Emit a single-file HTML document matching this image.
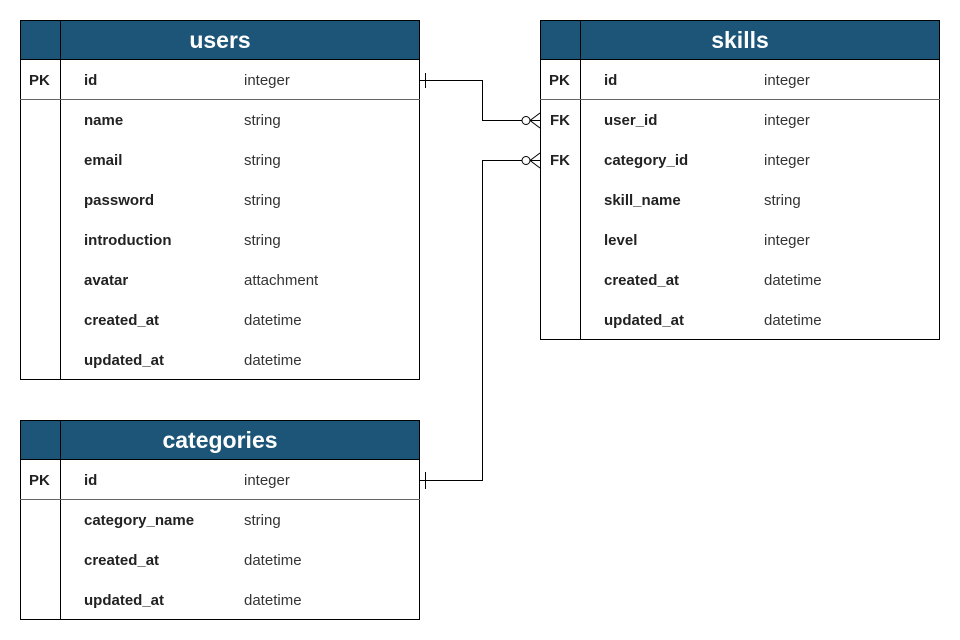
<!DOCTYPE html>
<html><head><meta charset="utf-8"><style>
html,body{margin:0;padding:0;background:#fff;}
svg{display:block;font-family:"Liberation Sans",sans-serif;}
.f{font-weight:bold;font-size:15px;fill:#222;}
.t{font-size:15px;fill:#333;}
.k{font-weight:bold;font-size:15px;fill:#222;}
.h{font-weight:bold;font-size:23px;fill:#fff;}
</style></head><body>
<svg width="960" height="640" viewBox="0 0 960 640">
<!-- users -->
<g>
<rect x="20.5" y="20.5" width="399" height="359" fill="#fff" stroke="#000"/>
<rect x="20.5" y="20.5" width="399" height="39" fill="#1c5578" stroke="#000"/>
<line x1="60.5" y1="20" x2="60.5" y2="380" stroke="#000"/>
<line x1="20" y1="99.5" x2="420" y2="99.5" stroke="#666"/>
<text class="h" x="220" y="48" text-anchor="middle">users</text>
<text class="k" x="29" y="85">PK</text>
<text class="f" x="84" y="85">id</text><text class="t" x="244" y="85">integer</text>
<text class="f" x="84" y="125">name</text><text class="t" x="244" y="125">string</text>
<text class="f" x="84" y="165">email</text><text class="t" x="244" y="165">string</text>
<text class="f" x="84" y="205">password</text><text class="t" x="244" y="205">string</text>
<text class="f" x="84" y="245">introduction</text><text class="t" x="244" y="245">string</text>
<text class="f" x="84" y="285">avatar</text><text class="t" x="244" y="285">attachment</text>
<text class="f" x="84" y="325">created_at</text><text class="t" x="244" y="325">datetime</text>
<text class="f" x="84" y="365">updated_at</text><text class="t" x="244" y="365">datetime</text>
</g>
<!-- skills -->
<g>
<rect x="540.5" y="20.5" width="399" height="319" fill="#fff" stroke="#000"/>
<rect x="540.5" y="20.5" width="399" height="39" fill="#1c5578" stroke="#000"/>
<line x1="580.5" y1="20" x2="580.5" y2="340" stroke="#000"/>
<line x1="540" y1="99.5" x2="940" y2="99.5" stroke="#666"/>
<text class="h" x="740" y="48" text-anchor="middle">skills</text>
<text class="k" x="549" y="85">PK</text>
<text class="k" x="550" y="125">FK</text>
<text class="k" x="550" y="165">FK</text>
<text class="f" x="604" y="85">id</text><text class="t" x="764" y="85">integer</text>
<text class="f" x="604" y="125">user_id</text><text class="t" x="764" y="125">integer</text>
<text class="f" x="604" y="165">category_id</text><text class="t" x="764" y="165">integer</text>
<text class="f" x="604" y="205">skill_name</text><text class="t" x="764" y="205">string</text>
<text class="f" x="604" y="245">level</text><text class="t" x="764" y="245">integer</text>
<text class="f" x="604" y="285">created_at</text><text class="t" x="764" y="285">datetime</text>
<text class="f" x="604" y="325">updated_at</text><text class="t" x="764" y="325">datetime</text>
</g>
<!-- categories -->
<g>
<rect x="20.5" y="420.5" width="399" height="199" fill="#fff" stroke="#000"/>
<rect x="20.5" y="420.5" width="399" height="39" fill="#1c5578" stroke="#000"/>
<line x1="60.5" y1="420" x2="60.5" y2="620" stroke="#000"/>
<line x1="20" y1="499.5" x2="420" y2="499.5" stroke="#666"/>
<text class="h" x="220" y="448" text-anchor="middle">categories</text>
<text class="k" x="29" y="485">PK</text>
<text class="f" x="84" y="485">id</text><text class="t" x="244" y="485">integer</text>
<text class="f" x="84" y="525">category_name</text><text class="t" x="244" y="525">string</text>
<text class="f" x="84" y="565">created_at</text><text class="t" x="244" y="565">datetime</text>
<text class="f" x="84" y="605">updated_at</text><text class="t" x="244" y="605">datetime</text>
</g>
<!-- connectors -->
<g fill="none" stroke="#000" stroke-width="1">
<polyline points="420,80.5 482.5,80.5 482.5,120.5 522,120.5"/>
<line x1="425.5" y1="73" x2="425.5" y2="88"/>
<circle cx="526" cy="120.5" r="4" fill="#fff"/>
<line x1="530" y1="120.5" x2="540" y2="120.5"/>
<line x1="530" y1="120.5" x2="540" y2="113"/>
<line x1="530" y1="120.5" x2="540" y2="128"/>

<polyline points="420,480.5 482.5,480.5 482.5,160.5 522,160.5"/>
<line x1="425.5" y1="472" x2="425.5" y2="489"/>
<circle cx="526" cy="160.5" r="4" fill="#fff"/>
<line x1="530" y1="160.5" x2="540" y2="160.5"/>
<line x1="530" y1="160.5" x2="540" y2="153"/>
<line x1="530" y1="160.5" x2="540" y2="168"/>
</g>
</svg>
</body></html>
